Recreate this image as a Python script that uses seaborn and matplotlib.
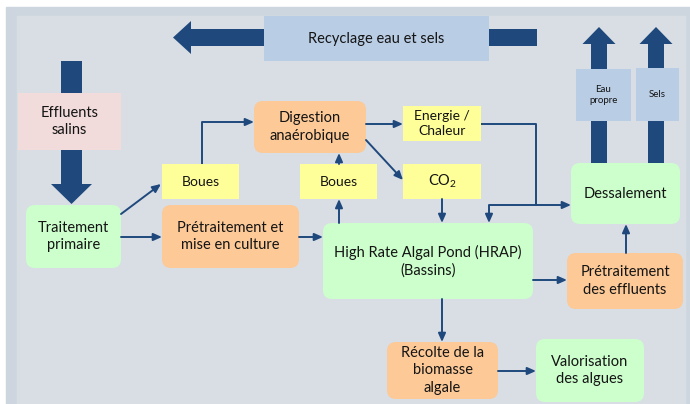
import matplotlib
matplotlib.use("Agg")
import matplotlib.pyplot as plt
import seaborn as sns
from matplotlib.patches import FancyBboxPatch, Rectangle, Polygon

sns.set_theme(style="white")
plt.rcParams['font.family'] = ['Lato', 'DejaVu Sans']
plt.rcParams['mathtext.fontset'] = 'custom'
plt.rcParams['mathtext.rm'] = 'Lato'
plt.rcParams['mathtext.it'] = 'Lato'

# ---- content ----
node_labels = ["Recyclage eau et sels", "Effluents\nsalins", "Traitement\nprimaire",
               "Boues", "Digestion\nanaérobique", "Energie /\nChaleur", "Boues",
               "CO$_2$", "Prétraitement et\nmise en culture",
               "High Rate Algal Pond (HRAP)\n(Bassins)", "Dessalement",
               "Eau\npropre", "Sels", "Prétraitement\ndes effluents",
               "Récolte de la\nbiomasse\nalgale", "Valorisation\ndes algues"]
node_kinds = ["blue", "pink", "green", "yellow", "orange", "yellow", "yellow",
              "yellow", "orange", "green", "green", "blue", "blue", "orange",
              "orange", "green"]

# ---- layout (pixel space) ----
node_boxes = [(264, 16, 225, 45), (18, 93, 103, 57), (26, 205, 95, 63),
              (162, 164, 77, 35), (254, 101, 112, 52), (403, 106, 78, 35),
              (300, 164, 77, 35), (403, 164, 78, 35), (162, 205, 137, 63),
              (323, 223, 210, 76), (571, 163, 109, 61), (576, 69, 55, 52),
              (636, 68, 43, 53), (567, 253, 116, 56), (387, 342, 111, 57),
              (536, 339, 108, 63)]
node_sizes = [10.5, 10.5, 10.5, 10, 10.5, 10, 10, 10.5, 10.5, 10.5, 10.5, 7, 7, 10.5, 10.5, 10.5]
fills = {"blue": "#b9cde5", "pink": "#f2dcdb", "green": "#ccffcc",
         "yellow": "#ffff99", "orange": "#fcc997"}
rounded = {"green", "orange"}
DARK = "#1f497d"

fig = plt.figure(figsize=(6.9, 4.04), dpi=100)
fig.patch.set_facecolor("white")
ax = fig.add_axes([0, 0, 1, 1])
ax.set_xlim(0, 690)
ax.set_ylim(404, 0)
ax.axis("off")

# background frame
ax.add_patch(Rectangle((6, 7), 690, 400, color="#cdd6df", zorder=0))
ax.add_patch(Rectangle((17, 16), 668, 400, color="#d9dee4", zorder=0))

# big block arrows
def block(points):
    ax.add_patch(Polygon(points, closed=True, color=DARK, zorder=1, lw=0))

# recycle arrow (left)
block([(537, 29), (191, 29), (191, 21), (173, 37.5), (191, 54), (191, 46), (537, 46)])
# effluents down arrow
block([(61, 61), (82, 61), (82, 184), (92, 184), (71.5, 204), (51, 184), (61, 184)])
# up arrows
for cx, hw in [(599, 8), (656, 8)]:
    block([(cx - hw, 163), (cx - hw, 44), (cx - 16.5, 44), (cx, 27),
           (cx + 16.5, 44), (cx + hw, 44), (cx + hw, 163)])

# thin connectors
def line(pts):
    xs, ys = zip(*pts)
    ax.plot(xs, ys, color=DARK, lw=1.4, zorder=2, solid_capstyle="butt")

def arrow(p0, p1):
    ax.annotate("", xy=p1, xytext=p0,
                arrowprops=dict(arrowstyle="-|>,head_length=0.5,head_width=0.22",
                                color=DARK, lw=1.4, shrinkA=0, shrinkB=0,
                                mutation_scale=10), zorder=5)

arrow((121, 214), (161, 184))
line([(202, 164), (202, 122), (240, 122)]); arrow((240, 122), (254, 122))
arrow((366, 124), (403, 124))
arrow((366, 140), (403, 180))
arrow((339, 164), (339, 153))
arrow((339, 223), (339, 199))
line([(481, 124), (536, 124), (536, 205), (489, 205), (489, 210)])
arrow((489, 210), (489, 223))
arrow((536, 205), (571, 205))
arrow((442, 199), (442, 223))
arrow((121, 237), (162, 237))
arrow((299, 237), (323, 237))
arrow((533, 280), (567, 280))
arrow((626, 253), (626, 224))
arrow((442, 299), (442, 342))
arrow((498, 371), (536, 371))

# nodes
for label, kind, (x, y, w, h), fs in zip(node_labels, node_kinds, node_boxes, node_sizes):
    if kind in rounded:
        p = FancyBboxPatch((x, y), w, h, boxstyle="round,pad=0,rounding_size=9",
                           fc=fills[kind], ec="none", zorder=3)
    else:
        p = Rectangle((x, y), w, h, fc=fills[kind], ec="none", zorder=3)
    ax.add_patch(p)
    ax.text(x + w / 2, y + h / 2, label, ha="center", va="center", fontsize=fs,
            color="#141414", linespacing=1.3, zorder=4)

fig.savefig("out.png", dpi=100)
